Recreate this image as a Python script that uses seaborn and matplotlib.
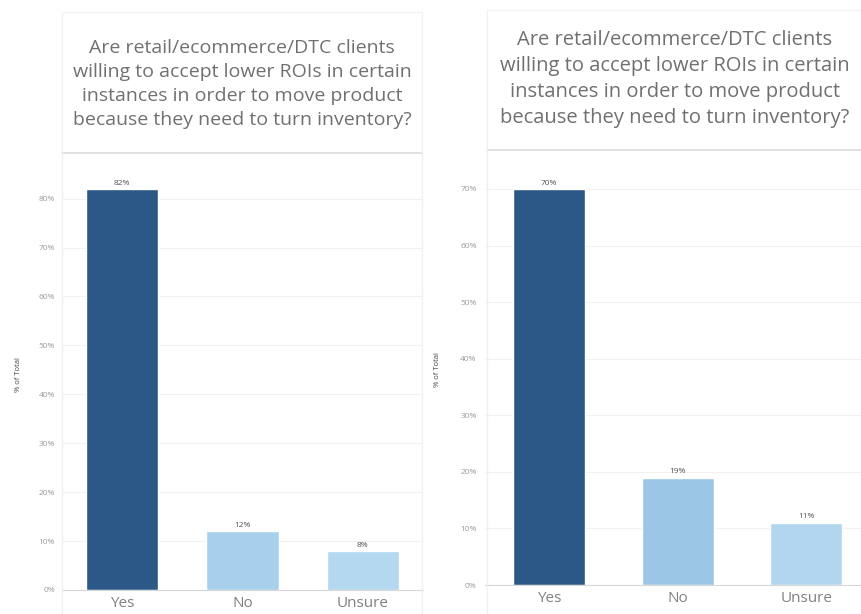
import matplotlib
matplotlib.use("Agg")
import matplotlib.pyplot as plt
import seaborn as sns
import pandas as pd
from matplotlib.lines import Line2D

categories = ["Yes", "No", "Unsure"]
left_values = [82, 12, 8]
right_values = [70, 19, 11]
left_ticks = [0, 10, 20, 30, 40, 50, 60, 70, 80]
right_ticks = [0, 10, 20, 30, 40, 50, 60, 70]

question = ("Are retail/ecommerce/DTC clients\n"
            "willing to accept lower ROIs in certain\n"
            "instances in order to move product\n"
            "because they need to turn inventory?")

left_colors = {"Yes": "#2b5886", "No": "#a8d0ec", "Unsure": "#b3d8f0"}
right_colors = {"Yes": "#2b5886", "No": "#9cc6e6", "Unsure": "#b2d6f0"}

sns.set_theme(style="white")
plt.rcParams["font.family"] = ["Open Sans", "DejaVu Sans"]

W, H = 862, 614
fig = plt.figure(figsize=(W / 100, H / 100), dpi=100)
fig.patch.set_facecolor("white")


def rect(x0, y0, x1, y1):
    # pixel box (top-left origin) -> figure fraction
    return [x0 / W, 1 - y1 / H, (x1 - x0) / W, (y1 - y0) / H]


def panel(values, colors, ticks, box, ylim, xlim, width, ylab_x, ypad):
    df = pd.DataFrame({"Answer": categories, "Pct": values})
    ax = fig.add_axes(rect(*box))
    sns.barplot(data=df, x="Answer", y="Pct", hue="Answer", palette=colors,
                order=categories, hue_order=categories, dodge=False,
                width=width, legend=False, ax=ax, saturation=1)
    ax.set_ylim(*ylim)
    ax.set_xlim(*xlim)
    ax.set_yticks(ticks)
    ax.set_yticklabels([f"{t}%" for t in ticks], fontsize=6, color="#9a9a9a")
    ax.tick_params(axis="y", length=0, pad=ypad)
    ax.tick_params(axis="x", length=0, pad=4, labelsize=11, labelcolor="#808080")
    ax.set_xlabel("")
    ax.set_ylabel("")
    ax.yaxis.grid(True, color="#f1f1f1", linewidth=0.8)
    ax.set_axisbelow(True)
    for s in ["top", "right", "left"]:
        ax.spines[s].set_visible(False)
    ax.spines["bottom"].set_color("#d8d8d8")
    ax.spines["bottom"].set_linewidth(0.8)
    for p, v in zip(ax.patches, values):
        ax.text(p.get_x() + p.get_width() / 2, v + 0.4, f"{v}%",
                ha="center", va="bottom", fontsize=6, color="#555555")
    fig.text(ylab_x / W, 1 - (box[1] + box[3]) / 2 / H, "% of Total",
             rotation=90, ha="center", va="center", fontsize=5.5, color="#444444")
    return ax


panel(left_values, left_colors, left_ticks, (62, 160, 423, 590),
      (0, 87.9), (-0.5, 2.5), 0.6, 19, 5)
panel(right_values, right_colors, right_ticks, (485, 155, 862, 585),
      (0, 76.0), (-0.5, 2.434), 0.56, 438, 6)

# question headers with their frames
fig.text(242 / W, 1 - 84 / H, question, ha="center", va="center",
         fontsize=14, color="#707070", linespacing=1.45)
fig.text(675 / W, 1 - 79 / H, question, ha="center", va="center",
         fontsize=14.5, color="#707070", linespacing=1.42)


def line(x0, y0, x1, y1, color="#e6e6e6", lw=1.0):
    fig.add_artist(Line2D([x0 / W, x1 / W], [1 - y0 / H, 1 - y1 / H],
                          color=color, linewidth=lw, transform=fig.transFigure))


line(62, 153, 422, 153, "#dcdcdc", 1.2)
line(487, 150, 862, 150, "#dcdcdc", 1.2)
line(62, 12, 62, 614, "#f0f0f0")
line(422, 12, 422, 614, "#f0f0f0")
line(62, 12, 422, 12, "#f3f3f3")
line(487, 10, 487, 614, "#f0f0f0")
line(487, 10, 862, 10, "#f3f3f3")

fig.savefig("out.png", dpi=100, facecolor="white")
